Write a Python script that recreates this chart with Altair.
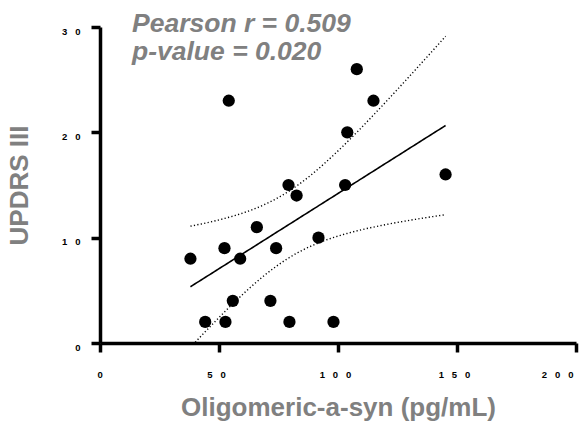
import altair as alt
import numpy as np
import pandas as pd

# Oligomeric alpha-synuclein (pg/mL) against UPDRS III score, one point per subject
oligo = [38.0, 52.3, 58.9, 65.9, 74.0, 91.8, 55.8, 71.6, 44.2, 52.7,
         79.6, 98.1, 79.2, 82.6, 103.0, 107.9, 114.9, 103.9, 54.1, 145.2]
updrs = [8, 9, 8, 11, 9, 10, 4, 4, 2, 2,
         2, 2, 15, 14, 15, 26, 23, 20, 23, 16]

x_ticks = [0, 50, 100, 150, 200]
y_ticks = [0, 10, 20, 30]
x_tick_labels = ["0", "50", "100", "150", "200"]
y_tick_labels = ["0", "10", "20", "30"]
stat_lines = ["Pearson r = 0.509", "p-value = 0.020"]

points = pd.DataFrame({"oligo": oligo, "updrs": updrs})

# Least-squares fit with a 95% confidence band for the mean response
x = np.asarray(oligo, dtype=float)
y = np.asarray(updrs, dtype=float)
n = len(x)
xbar, ybar = x.mean(), y.mean()
sxx = ((x - xbar) ** 2).sum()
slope = ((x - xbar) * (y - ybar)).sum() / sxx
intercept = ybar - slope * xbar
resid = y - (intercept + slope * x)
s = np.sqrt((resid ** 2).sum() / (n - 2))
t_crit = 2.101  # t(0.975, df=18)

xs = np.linspace(x.min(), x.max(), 120)
fit = intercept + slope * xs
half = t_crit * s * np.sqrt(1.0 / n + (xs - xbar) ** 2 / sxx)

fit_df = pd.DataFrame({"oligo": xs, "updrs": fit})
band_df = pd.concat([
    pd.DataFrame({"oligo": xs, "updrs": fit + half, "side": "upper"}),
    pd.DataFrame({"oligo": xs, "updrs": fit - half, "side": "lower"}),
])

FONT = "Liberation Sans"
GREY = "#808080"
GAP = "\u00a0" * 3  # non-breaking spaces survive SVG whitespace collapsing


def spaced_expr(values, labels):
    """Vega expression that prints each tick with wide gaps between digits."""
    expr = "''"
    for v, lab in reversed(list(zip(values, labels))):
        expr = f"datum.value == {v} ? '{GAP.join(lab)}' : ({expr})"
    return expr


x_scale = alt.Scale(domain=[0, 200], nice=False, zero=True)
y_scale = alt.Scale(domain=[0, 30], nice=False, zero=True)

x_axis = alt.Axis(
    values=x_ticks, labelExpr=spaced_expr(x_ticks, x_tick_labels),
    title="Oligomeric-a-syn (pg/mL)",
    labelPadding=17, labelOffset=-3, labelAngle=0,
    titleX=238, titleY=72, titleAlign="center", titleBaseline="alphabetic",
)
y_axis = alt.Axis(
    values=y_ticks, labelExpr=spaced_expr(y_ticks, y_tick_labels),
    title="UPDRS III",
    labelPadding=11, labelOffset=4,
    titleX=-81, titleY=158, titleAlign="center", titleBaseline="middle",
)

enc_x = alt.X("oligo:Q", scale=x_scale, axis=x_axis)
enc_y = alt.Y("updrs:Q", scale=y_scale, axis=y_axis)

band = alt.Chart(band_df).mark_line(
    color="black", strokeWidth=1.4, strokeDash=[1.2, 2.3], clip=True
).encode(x=enc_x, y=enc_y, detail="side:N")

line = alt.Chart(fit_df).mark_line(color="black", strokeWidth=1.6, clip=True).encode(
    x=enc_x, y=enc_y
)

dots = alt.Chart(points).mark_circle(size=150, color="black", opacity=1).encode(
    x=enc_x, y=enc_y
)

stats = alt.Chart(pd.DataFrame({"label": ["\n".join(stat_lines)]})).mark_text(
    align="left", baseline="alphabetic", lineBreak="\n", lineHeight=28,
    font=FONT, fontSize=26.5, fontStyle="italic", fontWeight="bold", color=GREY,
).encode(x=alt.value(32), y=alt.value(5), text="label:N")

chart = (
    alt.layer(band, line, dots, stats)
    .properties(
        width=476, height=316,
        autosize=alt.AutoSizeParams(type="none"),
        padding={"left": 100, "top": 27, "right": 8, "bottom": 83},
        background="white",
    )
    .configure_view(stroke=None)
    .configure_axis(
        grid=False,
        domainColor="black", domainWidth=3.5,
        tickColor="black", tickWidth=3.5, tickSize=9,
        labelFont=FONT, labelFontSize=9.5, labelFontWeight="bold", labelColor="black",
        titleFont=FONT, titleFontSize=26, titleFontWeight="bold", titleColor=GREY,
    )
)

chart.save("out.html", embed_options={"renderer": "svg", "actions": False})
